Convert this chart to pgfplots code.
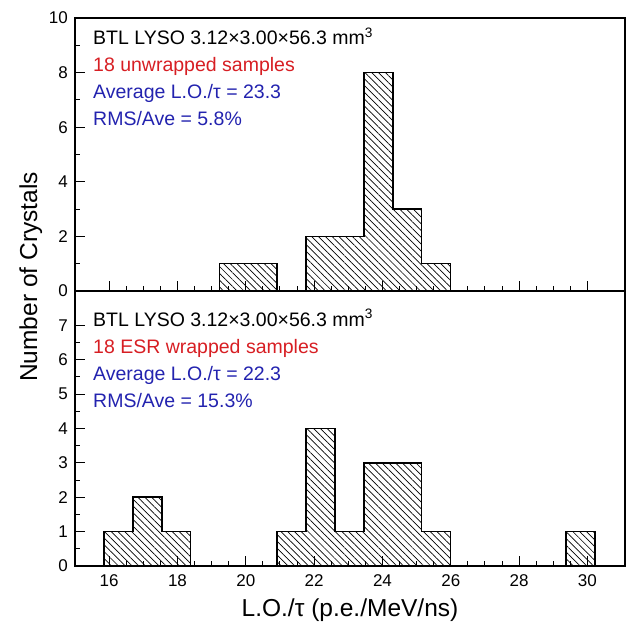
\documentclass[border=0pt]{standalone}
\usepackage{pgfplots}
\pgfplotsset{compat=1.18}
\usepackage{fontspec}
\setmainfont{Liberation Sans}
\usetikzlibrary{patterns.meta}
\definecolor{txtred}{RGB}{215,30,35}
\definecolor{txtblue}{RGB}{35,35,175}
\tikzset{
  ann/.style={anchor=base west, font=\fontsize{19.5bp}{23bp}\selectfont, inner sep=0pt},
}
\pgfplotsset{
  histstyle/.style={
    scale only axis, width=550bp,
    xmin=15, xmax=31.1,
    xtick={16,18,...,30}, minor x tick num=3,
    tick align=inside, xtick pos=bottom, ytick pos=left,
    major tick length=10bp, minor tick length=5bp,
    every tick/.style={black, line width=1pt},
    axis line style={line width=1.7pt},
    /pgf/number format/assume math mode=true,
    ticklabel style={font=\fontsize{17bp}{20bp}\selectfont},
    xticklabel style={anchor=base, yshift=-20bp},
    yticklabel style={anchor=east, inner sep=0pt, xshift=-7bp},
    axis on top,
  },
  bar/.style={const plot mark left, draw=black, line width=1.6pt,
    pattern={Lines[angle=-45, distance=4.8bp, line width=0.7pt]}},
}
\begin{document}
\begin{tikzpicture}
% bottom panel: ESR wrapped
\begin{axis}[histstyle, at={(0,0)}, anchor=south west, height=275bp,
  ymin=0, ymax=8, ytick={0,1,...,7}, minor y tick num=1]
\addplot[bar] coordinates {
  (15.85,1) (16.695,2) (17.54,1) (18.385,0) (20.92,1) (21.765,4)
  (22.61,1) (23.455,3) (25.145,1) (25.99,0) (29.37,1) (30.215,0)
} \closedcycle;
\node[ann] at (rel axis cs:0,1) [xshift=18bp, yshift=-35bp] {BTL LYSO 3.12×3.00×56.3 mm\textsuperscript{3}};
\node[ann, text=txtred] at (rel axis cs:0,1) [xshift=18bp, yshift=-62bp] {18 ESR wrapped samples};
\node[ann, text=txtblue] at (rel axis cs:0,1) [xshift=18bp, yshift=-89bp] {Average L.O./τ = 22.3};
\node[ann, text=txtblue] at (rel axis cs:0,1) [xshift=18bp, yshift=-116bp] {RMS/Ave = 15.3\%};
\end{axis}
% top panel: unwrapped
\begin{axis}[histstyle, at={(0,275bp)}, anchor=south west, height=273bp,
  ymin=0, ymax=10, ytick={0,2,...,10}, minor y tick num=1, xticklabels={}]
\addplot[bar] coordinates {
  (19.23,1) (20.92,0) (21.765,2) (23.455,8) (24.30,3) (25.145,1) (25.99,0)
} \closedcycle;
\node[ann] at (rel axis cs:0,1) [xshift=18bp, yshift=-27bp] {BTL LYSO 3.12×3.00×56.3 mm\textsuperscript{3}};
\node[ann, text=txtred] at (rel axis cs:0,1) [xshift=18bp, yshift=-54bp] {18 unwrapped samples};
\node[ann, text=txtblue] at (rel axis cs:0,1) [xshift=18bp, yshift=-81bp] {Average L.O./τ = 23.3};
\node[ann, text=txtblue] at (rel axis cs:0,1) [xshift=18bp, yshift=-108bp] {RMS/Ave = 5.8\%};
\end{axis}
\node[rotate=90, anchor=base, inner sep=0pt, font=\fontsize{24.5bp}{28bp}\selectfont] at (-38bp,289bp) {Number of Crystals};
\node[anchor=base, inner sep=0pt, font=\fontsize{24.5bp}{28bp}\selectfont] at (275bp,-50bp) {L.O./τ (p.e./MeV/ns)};
\pgfresetboundingbox
\useasboundingbox (-75bp,-58bp) rectangle (554bp,566bp);
\end{tikzpicture}
\end{document}
